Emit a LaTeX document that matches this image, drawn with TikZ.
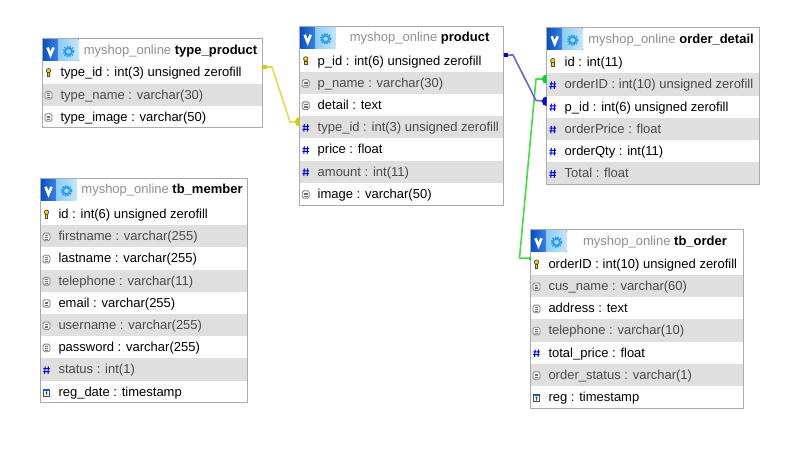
\documentclass[tikz,border=0pt]{standalone}
\usepackage{fontspec}
\setmainfont{Liberation Sans}
\usetikzlibrary{calc}
\definecolor{rowgrey}{HTML}{DFDFDF}
\definecolor{frameg}{HTML}{ABABAB}
\definecolor{dbgrey}{HTML}{8E8E8E}
\definecolor{greytext}{HTML}{4A4A4A}
\definecolor{hashblue}{HTML}{0000E6}
\definecolor{vblue}{HTML}{0A62E0}
\definecolor{gearblue}{HTML}{2A9DF0}
\definecolor{linkyellow}{HTML}{DEDE55}
\definecolor{endyellow}{HTML}{CCCC11}
\definecolor{linkblue}{HTML}{6666DD}
\definecolor{endblue}{HTML}{0808C8}
\definecolor{linkgreen}{HTML}{44DD44}
\definecolor{endgreen}{HTML}{11CC33}
\definecolor{HDRL}{HTML}{8CCBF7}
\definecolor{HDRR}{HTML}{C6E4FB}
\tikzset{
  frameb/.style={draw=frameg,line width=1pt,fill=white,inner sep=0pt,outer sep=0pt,anchor=north west},
  framel/.style={draw=frameg,line width=1pt},
  rowbox/.style={inner sep=0pt,outer sep=0pt,anchor=west},
  rowtext/.style={inner sep=0pt,outer sep=0pt,anchor=base west,font=\fontsize{13}{15}\selectfont},
  headtext/.style={inner sep=0pt,outer sep=0pt,anchor=base,font=\fontsize{13}{15}\selectfont},
  link/.style={line width=1.6pt,line join=round},
}
% icons, centred on coordinate (c)
\newcommand{\icokey}{\begin{scope}[shift={(c)}]
  \draw[black!70,fill=yellow!70!orange,line width=.7pt] (0,-1.8) circle (2.2);
  \draw[black!70,line width=.7pt,fill=yellow!70!orange] (-1.3,.2) rectangle (1.3,4);
  \end{scope}}
\newcommand{\icodoc}{\begin{scope}[shift={(c)}]
  \draw[black!50,line width=.8pt,rounded corners=1.6pt,fill=white!70!rowgrey] (-3.5,-3.2) rectangle (3.5,4.4);
  \draw[black!55,line width=.6pt] (-1.8,-1)--(1.8,-1) (-1.8,.8)--(1.8,.8) (-1.8,2.5)--(1.8,2.5);
  \end{scope}}
\newcommand{\icohash}{\begin{scope}[shift={(c)}]
  \draw[hashblue,line width=1pt] (-1.4,-3.2)--(-1.9,4.4) (2,-3.2)--(1.5,4.4) (-3.2,-.8)--(3.4,-.8) (-3.4,2)--(3.2,2);
  \end{scope}}
\newcommand{\icotime}{\begin{scope}[shift={(c)}]
  \draw[black!70,line width=.7pt,fill=white] (-3.3,-2.6) rectangle (3.3,4.4);
  \fill[vblue] (-3.3,-2.6) rectangle (3.3,-.8);
  \draw[black,line width=.7pt] (-.8,.6)--(.2,.1)--(.2,3.4);
  \end{scope}}
% id, left, top, right, bottom, n rows, table name, rows
\newcommand{\dbtable}[8]{%
  \pgfmathsetmacro{\W}{#4-#2}\pgfmathsetmacro{\H}{#5-#3}%
  \node[frameb,minimum width=\W pt,minimum height=\H pt] (#1) at (#2,#3) {};
  \foreach \t/\s [count=\i] in {#8}{
    \pgfmathsetmacro{\yc}{#5-(#6-\i+.5)*22.2}
    \ifodd\i
      \node[rowbox,minimum width=\W pt,minimum height=22.2pt] (#1-\i) at (#2,\yc) {};
      \coordinate (c) at ($(#2,\yc)+(6,0)$);
      \csname ico\t\endcsname
      \node[rowtext,text=black] (#1-\i-t) at ($(#2,\yc)+(18,4.4)$) {\s};
    \else
      \node[rowbox,fill=rowgrey,minimum width=\W pt,minimum height=22.2pt] (#1-\i) at (#2,\yc) {};
      \coordinate (c) at ($(#2,\yc)+(6,0)$);
      \csname ico\t\endcsname
      \node[rowtext,text=greytext] (#1-\i-t) at ($(#2,\yc)+(18,4.4)$) {\s};
    \fi
  }
  % header icons
  \fill[left color=vblue!85!black,right color=vblue!80!white] ($(#2,#3)+(.6,.5)$) rectangle ($(#2,#3)+(15.5,22)$);
  \fill[left color=HDRL,right color=HDRR] ($(#2,#3)+(15.5,.5)$) rectangle ($(#2,#3)+(36,22)$);
  \draw[white,line width=2.6pt] ($(#2,#3)+(5,8.5)$) -- ($(#2,#3)+(8,16)$) -- ($(#2,#3)+(11,8.5)$);
  \draw[gearblue,line width=1.9pt] ($(#2,#3)+(26,12.5)$) circle (3.4);
  \draw[gearblue,line width=1.5pt,dash pattern=on 1.5pt off 1.2pt] ($(#2,#3)+(26,12.5)$) circle (5.1);
  \pgfmathsetmacro{\xh}{(#2+36+#4)/2}
  \node[headtext] (#1-h) at ($(\xh,#3)+(0,15.4)$) {\textcolor{dbgrey}{myshop\_online} \textbf{#7}};
  \draw[framel] (#1.north west) rectangle (#1.south east);
}
\begin{document}
\begin{tikzpicture}[x=1pt,y=-1pt]
\useasboundingbox[fill=white] (0,0) rectangle (791,449);
\dbtable{tp}{42.5}{39}{262.5}{128}{3}{type\_product}{%
  key/type\_id : int(3) unsigned zerofill,
  doc/type\_name : varchar(30),
  doc/type\_image : varchar(50)}
\dbtable{pr}{299.7}{26.3}{503.5}{205}{7}{product}{%
  key/p\_id : int(6) unsigned zerofill,
  doc/p\_name : varchar(30),
  doc/detail : text,
  hash/type\_id : int(3) unsigned zerofill,
  hash/price : float,
  hash/amount : int(11),
  doc/image : varchar(50)}
\dbtable{od}{546.7}{27.7}{759.3}{184.5}{6}{order\_detail}{%
  key/id : int(11),
  hash/orderID : int(10) unsigned zerofill,
  hash/p\_id : int(6) unsigned zerofill,
  hash/orderPrice : float,
  hash/orderQty : int(11),
  hash/Total : float}
\dbtable{to}{530.5}{229.7}{743.5}{408.2}{7}{tb\_order}{%
  key/orderID : int(10) unsigned zerofill,
  doc/cus\_name : varchar(60),
  doc/address : text,
  doc/telephone : varchar(10),
  hash/total\_price : float,
  doc/order\_status : varchar(1),
  time/reg : timestamp}
\dbtable{tm}{40.5}{178.3}{247.5}{402.8}{9}{tb\_member}{%
  key/id : int(6) unsigned zerofill,
  doc/firstname : varchar(255),
  doc/lastname : varchar(255),
  doc/telephone : varchar(11),
  doc/email : varchar(255),
  doc/username : varchar(255),
  doc/password : varchar(255),
  hash/status : int(1),
  time/reg\_date : timestamp}
% bend points
\coordinate (ya) at (272,67);  \coordinate (yb) at (290,122);
\coordinate (ba) at (513,55);  \coordinate (bb) at (536,100.5);
\coordinate (ga) at (519.5,258); \coordinate (gb) at (536,79);
% connectors
\draw[link,linkyellow] ([yshift=5.5pt]tp-1.east) -- (ya) -- (yb) -- ([yshift=5.5pt]pr-4.west);
\draw[link,linkgreen] ([yshift=5.5pt]to-1.west) -- (ga) -- (gb) -- ([yshift=5.5pt]od-2.west);
\draw[link,linkblue] ([yshift=5.5pt]pr-1.east) -- (ba) -- (bb) -- ([yshift=5.5pt]od-3.west);
% ends
\fill[endyellow] ([yshift=5.5pt]tp-1.east) ++(0,-2) rectangle ++(4,4);
\fill[endblue] ([yshift=5.5pt]pr-1.east) ++(0,-2) rectangle ++(4,4);
\fill[endgreen] ([yshift=5.5pt]to-1.west) ++(0,-1.2) rectangle ++(-2,2.4);
\fill[endyellow] ([yshift=5.5pt]pr-4.west) ++(0,4.8) arc[start angle=90,delta angle=180,radius=4.8] -- cycle;
\fill[endgreen] ([yshift=5.5pt]od-2.west) ++(0,4.8) arc[start angle=90,delta angle=180,radius=4.8] -- cycle;
\fill[endblue] ([yshift=5.5pt]od-3.west) ++(0,4.8) arc[start angle=90,delta angle=180,radius=4.8] -- cycle;
\end{tikzpicture}
\end{document}
